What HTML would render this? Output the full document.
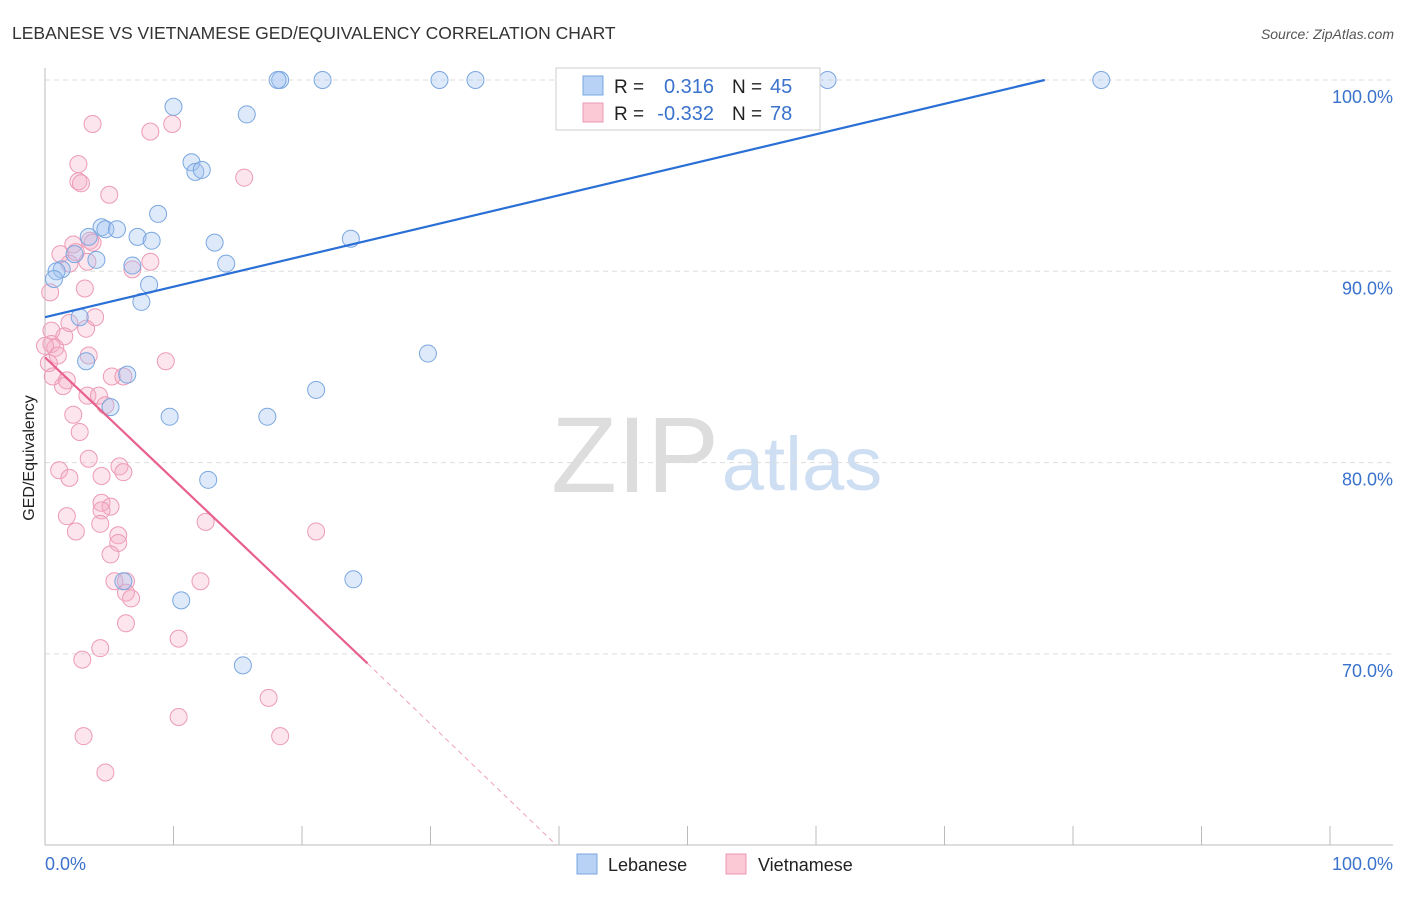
<!DOCTYPE html>
<html><head><meta charset="utf-8"><style>
body{margin:0;background:#fff;font-family:"Liberation Sans",sans-serif}
svg text{font-family:"Liberation Sans",sans-serif}
</style></head><body>
<svg id="chart" width="1406" height="892" xmlns="http://www.w3.org/2000/svg">
<text x="12" y="39" font-size="17.5" fill="#333">LEBANESE VS VIETNAMESE GED/EQUIVALENCY CORRELATION CHART</text>
<text x="1394" y="39" font-size="14" fill="#555" font-style="italic" text-anchor="end">Source: ZipAtlas.com</text>
<text x="34" y="458" font-size="16" fill="#222" transform="rotate(-90 34 458)" text-anchor="middle">GED/Equivalency</text>
<g><text x="635" y="492" font-size="108" fill="#ddd" font-family="Liberation Serif" text-anchor="middle">ZIP</text><text x="802" y="490" font-size="76" fill="#cfdff3" text-anchor="middle">atlas</text></g>
<g id="grid"></g><g id="axes"></g><g id="pts"></g><g id="lines"></g>
<g>
<rect x="556" y="68" width="264" height="62" fill="#fff" stroke="#ccc"/>
<rect x="583" y="76" width="20" height="19" fill="#b7d2f5" stroke="#7aa7e0"/>
<rect x="583" y="103" width="20" height="19" fill="#fbc8d6" stroke="#eb9ab4"/>
<text x="614" y="93" font-size="19" fill="#222">R =</text><text x="714" y="93" font-size="20" fill="#3a72cc" text-anchor="end">0.316</text>
<text x="732" y="93" font-size="19" fill="#222">N =</text><text x="770" y="93" font-size="20" fill="#3a72cc">45</text>
<text x="614" y="120" font-size="19" fill="#222">R =</text><text x="714" y="120" font-size="20" fill="#3a72cc" text-anchor="end">-0.332</text>
<text x="732" y="120" font-size="19" fill="#222">N =</text><text x="770" y="120" font-size="20" fill="#3a72cc">78</text>
</g>
<g>
<rect x="577" y="854" width="20" height="20" fill="#b7d2f5" stroke="#7aa7e0"/><text x="608" y="871" font-size="18" fill="#222">Lebanese</text>
<rect x="726" y="854" width="20" height="20" fill="#fbc8d6" stroke="#eb9ab4"/><text x="758" y="871" font-size="18" fill="#222">Vietnamese</text>
</g>
</svg>
<script>
const leb=[[18.3,100],[18.1,100],[21.6,100],[30.7,100],[33.5,100],[60.9,100],[82.2,100],[10,98.6],[15.7,98.2],[11.4,95.7],[11.7,95.2],[12.2,95.3],[8.8,93],[4.4,92.3],[4.7,92.2],[5.6,92.2],[3.4,91.8],[7.2,91.8],[8.3,91.6],[13.2,91.5],[23.8,91.7],[2.3,90.9],[4,90.6],[6.8,90.3],[14.1,90.4],[1.3,90.1],[0.9,90],[0.7,89.6],[8.1,89.3],[7.5,88.4],[2.7,87.6],[3.2,85.3],[29.8,85.7],[6.4,84.6],[5.1,82.9],[21.1,83.8],[9.7,82.4],[17.3,82.4],[12.7,79.1],[6.1,73.8],[24.0,73.9],[10.6,72.8],[15.4,69.4]];
const vie=[[3.7,97.7],[8.2,97.3],[9.9,97.7],[2.6,95.6],[2.6,94.7],[2.8,94.6],[5,94],[15.5,94.9],[3.5,91.6],[3.7,91.5],[2.2,91.4],[1.2,90.9],[2.4,91],[3.3,90.5],[1.9,90.4],[8.2,90.5],[6.8,90.1],[0.4,88.9],[3.1,89.1],[3.9,87.6],[1.9,87.3],[3.2,87],[0.5,86.9],[1.5,86.6],[0.5,86.2],[0.8,86],[0,86.1],[1,85.6],[3.4,85.6],[0.3,85.2],[9.4,85.3],[0.6,84.5],[5.2,84.5],[6.1,84.5],[1.7,84.3],[1.4,84],[3.3,83.5],[4.2,83.5],[4.7,83],[2.2,82.5],[2.7,81.6],[3.4,80.2],[1.1,79.6],[5.8,79.8],[6.1,79.5],[1.9,79.2],[4.4,79.3],[4.4,77.9],[5.1,77.7],[4.4,77.5],[1.7,77.2],[12.5,76.9],[4.3,76.8],[2.4,76.4],[21.1,76.4],[5.7,76.2],[5.7,75.8],[5.1,75.2],[5.4,73.8],[12.1,73.8],[6.3,73.8],[6.3,73.2],[6.7,72.9],[6.3,71.6],[10.4,70.8],[4.3,70.3],[2.9,69.7],[17.4,67.7],[10.4,66.7],[3,65.7],[18.3,65.7],[4.7,63.8]];
const yTicks=[100,90,80,70];
const xTicks=[0,10,20,30,40,50,60,70,80,90,100];
const lebFit=[0,87.6,77.8,100];
const vieFit=[0,85.5,25.1,69.5,39.8,60];
const X=v=>45+v*12.85, Y=v=>80+(100-v)*19.13;
const NS="http://www.w3.org/2000/svg";
function mk(p,t,a){const e=document.createElementNS(NS,t);for(const k in a)e.setAttribute(k,a[k]);p.appendChild(e);return e;}
const g=document.getElementById('grid'),ax=document.getElementById('axes'),pts=document.getElementById('pts'),ln=document.getElementById('lines');
yTicks.forEach(v=>{const l=mk(g,'line',{x1:45,x2:1393,y1:Y(v),y2:Y(v),stroke:'#ddd','stroke-dasharray':'5,4'});


const t=mk(ax,'text',{x:1393,y:Y(v)+23,'font-size':18,fill:'#3a72cc','text-anchor':'end'});t.textContent=v.toFixed(1)+'%';

});
mk(ax,'line',{x1:45,x2:45,y1:68,y2:845,stroke:'#bbb'});
mk(ax,'line',{x1:45,x2:1393,y1:845,y2:845,stroke:'#bbb'});
xTicks.forEach(v=>{const l=mk(ax,'line',{x1:X(v),x2:X(v),y1:826,y2:845,stroke:'#bbb'});

});
[[0,'start',45],[100,'end',1393]].forEach(([v,a,x])=>{const t=mk(ax,'text',{x:x,y:870,'font-size':18,fill:'#3a72cc','text-anchor':a});t.textContent=v.toFixed(1)+'%';

});
vie.forEach(d=>{const c=mk(pts,'circle',{cx:X(d[0]),cy:Y(d[1]),r:8.5,fill:'rgba(246,170,196,0.3)',stroke:'#ec9bb5','stroke-width':1});

});
leb.forEach(d=>{const c=mk(pts,'circle',{cx:X(d[0]),cy:Y(d[1]),r:8.5,fill:'rgba(160,195,240,0.35)',stroke:'#7aa7e0','stroke-width':1});

});
const bl=mk(ln,'line',{x1:X(lebFit[0]),y1:Y(lebFit[1]),x2:X(lebFit[2]),y2:Y(lebFit[3]),stroke:'#2a6fd6','stroke-width':2.2});


const pl=mk(ln,'line',{x1:X(vieFit[0]),y1:Y(vieFit[1]),x2:X(vieFit[2]),y2:Y(vieFit[3]),stroke:'#e8608e','stroke-width':2.2});


const pd=mk(ln,'line',{x1:X(vieFit[2]),y1:Y(vieFit[3]),x2:X(vieFit[4]),y2:Y(vieFit[5]),stroke:'#f0a0bb','stroke-width':1,'stroke-dasharray':'5,4'});


</script>
</body></html>
